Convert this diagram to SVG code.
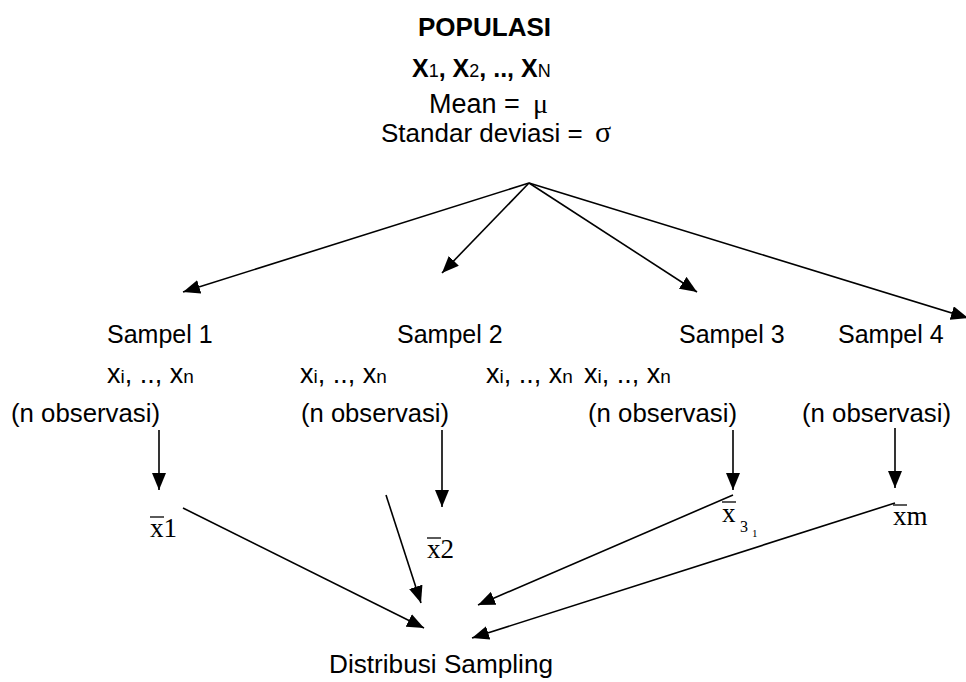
<svg xmlns="http://www.w3.org/2000/svg" width="966" height="682" viewBox="0 0 966 682">
<style>
  .t { font-family: "Liberation Sans", Arial, sans-serif; font-size: 25px; fill: #000; }
  .b { font-weight: bold; }
  .sub { font-size: 18px; font-weight: normal; }
  .xs { font-family: "Liberation Sans", Arial, sans-serif; font-size: 27px; fill: #000; }
  .xsub { font-size: 19px; }
  .m { font-family: "Liberation Serif", "Times New Roman", serif; font-size: 27px; fill: #000; }
  .g { font-family: "Liberation Serif", "Times New Roman", serif; }
  .bar { stroke: #000; stroke-width: 1.3; }
  .c line { stroke: #000; stroke-width: 1.6; marker-end: url(#ah); }
</style>
<defs>
  <marker id="ah" markerUnits="userSpaceOnUse" markerWidth="17" markerHeight="14" refX="17" refY="7" orient="auto">
    <path d="M0,0 L17,7 L0,14 z" fill="#000"/>
  </marker>
</defs>
<rect width="966" height="682" fill="#fff"/>

<g id="populasi">
  <text class="t b" x="418" y="36" textLength="133" lengthAdjust="spacingAndGlyphs">POPULASI</text>
  <text class="t b" x="412" y="77">X<tspan class="sub">1</tspan>, X<tspan class="sub">2</tspan>, .., X<tspan class="sub">N</tspan></text>
  <text class="t" x="429" y="113" style="font-size:27px">Mean = <tspan class="g" x="533" style="font-size:28px">μ</tspan></text>
  <text class="t" x="381" y="142" style="font-size:26px">Standar deviasi = <tspan class="g" x="595" style="font-size:30px">σ</tspan></text>
</g>

<g id="sampel1">
  <text class="t" x="107" y="343">Sampel 1</text>
  <text class="xs" x="107" y="383">x<tspan class="xsub">i</tspan>, .., x<tspan class="xsub">n</tspan></text>
  <text class="t" x="11" y="422" textLength="149" lengthAdjust="spacingAndGlyphs">(n observasi)</text>
</g>
<g id="sampel2">
  <text class="t" x="397" y="343">Sampel 2</text>
  <text class="xs" x="300" y="383">x<tspan class="xsub">i</tspan>, .., x<tspan class="xsub">n</tspan></text>
  <text class="xs" x="486" y="383">x<tspan class="xsub">i</tspan>, .., x<tspan class="xsub">n</tspan></text>
  <text class="t" x="301" y="422" textLength="148" lengthAdjust="spacingAndGlyphs">(n observasi)</text>
</g>
<g id="sampel3">
  <text class="t" x="679" y="343">Sampel 3</text>
  <text class="xs" x="584" y="383">x<tspan class="xsub">i</tspan>, .., x<tspan class="xsub">n</tspan></text>
  <text class="t" x="588" y="422" textLength="149" lengthAdjust="spacingAndGlyphs">(n observasi)</text>
</g>
<g id="sampel4">
  <text class="t" x="838" y="343">Sampel 4</text>
  <text class="t" x="802" y="422" textLength="149" lengthAdjust="spacingAndGlyphs">(n observasi)</text>
</g>

<g id="xbar1">
  <text class="m" x="150" y="537">x1</text>
  <line class="bar" x1="150" y1="517" x2="164" y2="517"/>
</g>
<g id="xbar2">
  <text class="m" x="427" y="558">x2</text>
  <line class="bar" x1="427" y1="538" x2="441" y2="538"/>
</g>
<g id="xbar3">
  <text class="m" x="722" y="522">x<tspan style="font-size:16px" x="740" y="532">3</tspan><tspan style="font-size:11px" x="752" y="537">1</tspan></text>
  <line class="bar" x1="722" y1="502" x2="736" y2="502"/>
</g>
<g id="xbarm">
  <text class="m" x="893" y="525">xm</text>
  <line class="bar" x1="893" y1="505" x2="907" y2="505"/>
</g>

<g id="distribusi">
  <text class="t" x="329" y="673" textLength="224" lengthAdjust="spacingAndGlyphs">Distribusi Sampling</text>
</g>

<g id="connectors" class="c">
  <line x1="529" y1="183" x2="183" y2="292"/>
  <line x1="529" y1="183" x2="442" y2="273"/>
  <line x1="529" y1="183" x2="697" y2="292"/>
  <line x1="529" y1="183" x2="968" y2="318"/>
  <line x1="159" y1="430" x2="159" y2="490"/>
  <line x1="442" y1="430" x2="442" y2="507"/>
  <line x1="733" y1="430" x2="733" y2="490"/>
  <line x1="895" y1="428" x2="895" y2="488"/>
  <line x1="183" y1="508" x2="424" y2="628"/>
  <line x1="386" y1="495" x2="421" y2="603"/>
  <line x1="733" y1="495" x2="478" y2="605"/>
  <line x1="895" y1="503" x2="472" y2="638"/>
</g>
</svg>
